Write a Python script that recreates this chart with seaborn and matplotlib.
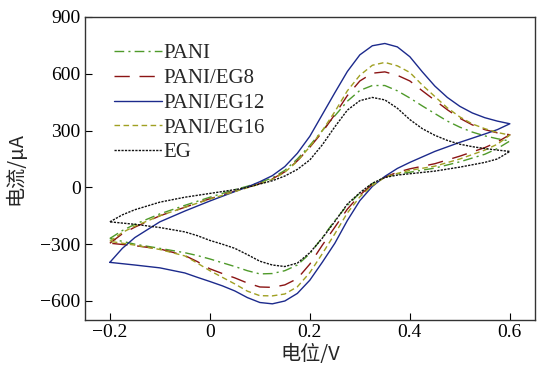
import numpy as np
import pandas as pd
import matplotlib
matplotlib.use("Agg")
import matplotlib.pyplot as plt
import seaborn as sns

# potential grid (V): forward (anodic) scan then reverse (cathodic) scan
v_forward = [-0.2, -0.175, -0.15, -0.1, -0.05, 0.0, 0.05, 0.075, 0.1, 0.125, 0.15, 0.175,
             0.2, 0.225, 0.25, 0.275, 0.3, 0.325, 0.35, 0.375, 0.4, 0.425, 0.45, 0.475,
             0.5, 0.525, 0.55, 0.575, 0.6]
v_reverse = [0.6, 0.575, 0.55, 0.5, 0.45, 0.4, 0.375, 0.35, 0.325, 0.3, 0.275, 0.25,
             0.225, 0.2, 0.175, 0.15, 0.125, 0.1, 0.075, 0.05, 0.025, 0.0, -0.025, -0.05,
             -0.1, -0.15, -0.2]

series_names = ["PANI", "PANI/EG8", "PANI/EG12", "PANI/EG16", "EG"]

pani_fwd = [-270, -228, -195, -140, -95, -52, -12, 6, 26, 50, 90, 150, 222, 300, 378,
            455, 512, 538, 538, 510, 472, 430, 390, 350, 318, 292, 272, 257, 245]
pani_rev = [245, 205, 175, 135, 102, 80, 70, 55, 20, -30, -95, -175, -265, -350, -410,
            -440, -455, -457, -440, -418, -398, -378, -360, -345, -322, -300, -270]

eg8_fwd = [-295, -245, -210, -150, -105, -60, -20, 0, 20, 45, 82, 140, 212, 292, 385,
           485, 562, 603, 610, 592, 562, 510, 460, 410, 365, 330, 305, 288, 278]
eg8_rev = [278, 240, 210, 165, 125, 98, 80, 54, 15, -40, -115, -210, -305, -405, -482,
           -515, -528, -526, -505, -478, -455, -430, -392, -360, -325, -308, -295]

eg12_fwd = [-396, -322, -265, -182, -125, -72, -22, 2, 30, 62, 110, 180, 270, 385, 500,
            612, 700, 748, 760, 742, 690, 610, 535, 475, 428, 393, 368, 350, 336]
eg12_rev = [336, 305, 282, 238, 190, 132, 100, 58, 5, -70, -175, -295, -395, -490, -560,
            -600, -615, -608, -582, -547, -520, -497, -475, -452, -425, -410, -396]

eg16_fwd = [-285, -238, -205, -150, -105, -62, -22, -2, 18, 42, 80, 138, 215, 300, 400,
            510, 592, 645, 660, 642, 607, 540, 480, 420, 372, 335, 310, 290, 276]
eg16_rev = [276, 228, 197, 150, 112, 90, 74, 53, 10, -50, -135, -245, -350, -450, -525,
            -563, -573, -572, -548, -510, -475, -440, -400, -362, -328, -305, -285]

eg_fwd = [-182, -145, -118, -78, -52, -32, -12, 0, 18, 35, 60, 95, 145, 225, 320,
          408, 458, 475, 462, 418, 358, 310, 275, 248, 228, 215, 205, 197, 190]
eg_rev = [190, 150, 132, 107, 86, 72, 65, 52, 22, -28, -88, -180, -268, -345, -400,
          -418, -410, -390, -355, -322, -300, -280, -255, -235, -212, -195, -182]

currents = [(pani_fwd, pani_rev), (eg8_fwd, eg8_rev), (eg12_fwd, eg12_rev),
            (eg16_fwd, eg16_rev), (eg_fwd, eg_rev)]

x_ticks = [-0.2, 0, 0.2, 0.4, 0.6]
x_tick_labels = ["\u22120.2", "0", "0.2", "0.4", "0.6"]
y_ticks = [-600, -300, 0, 300, 600, 900]
y_tick_labels = ["\u2212600", "\u2212300", "0", "300", "600", "900"]

colors = ["#4f9a2a", "#8b1414", "#1c2a8c", "#a0a022", "#111111"]
styles = [(0, (7, 3, 1.5, 3)), (0, (11, 7)), "-", (0, (4, 2.5)), (0, (1.6, 0.9))]

sns.set_style("ticks")
plt.rcParams["font.family"] = ["Liberation Serif", "Noto Sans CJK SC"]
plt.rcParams["axes.unicode_minus"] = True

fig = plt.figure(figsize=(5.37, 3.69), dpi=100)
ax = fig.add_axes([0.158, 0.133, 0.838, 0.821])

for name, (fw, rv), c, ls in zip(series_names, currents, colors, styles):
    df = pd.DataFrame({"V": v_forward + v_reverse, "I": fw + rv})
    sns.lineplot(data=df, x="V", y="I", sort=False, estimator=None, ax=ax,
                 color=c, linestyle=ls, linewidth=1.0, label=name)

ax.set_xlim(-0.25, 0.65)
ax.set_ylim(-700, 900)
ax.set_xticks(x_ticks)
ax.set_xticklabels(x_tick_labels)
ax.set_yticks(y_ticks)
ax.set_yticklabels(y_tick_labels)
ax.tick_params(direction="in", length=5, width=0.8, labelsize=14, colors="black",
               top=False, right=False, pad=3)
for s in ax.spines.values():
    s.set_color("#333333")
    s.set_linewidth(1.0)

ax.set_xlabel("电位/V", fontsize=14.5, family=["Noto Sans CJK SC", "Liberation Serif"], labelpad=2)
ax.set_ylabel("电流/μA", fontsize=14.5, family=["Noto Sans CJK SC", "Liberation Serif"], labelpad=10)

leg = ax.legend(loc="upper left", frameon=False, fontsize=15, handlelength=2.3,
                handletextpad=0.07, labelspacing=0.25, bbox_to_anchor=(0.064, 0.912),
                borderaxespad=0, borderpad=0)

fig.savefig("out.png", dpi=100)
